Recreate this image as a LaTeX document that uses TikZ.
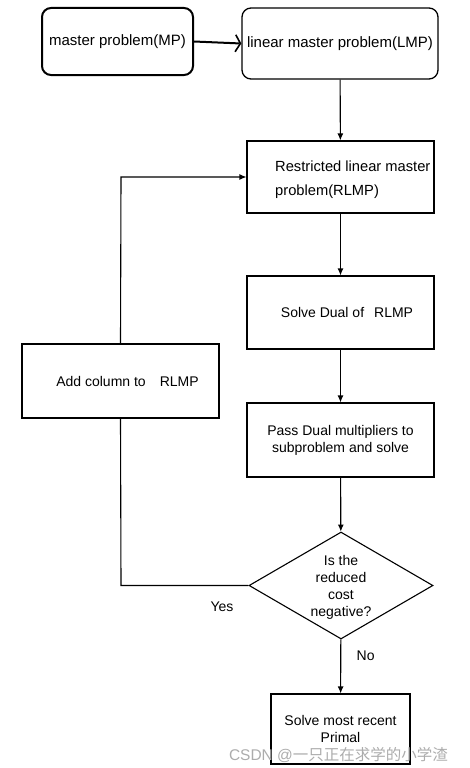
\documentclass[tikz,border=0pt]{standalone}
\usepackage{fontspec}
\setmainfont{Liberation Sans}
\newfontfamily\cjkfont{Noto Sans CJK SC}
\usetikzlibrary{arrows.meta,shapes.geometric}

\begin{document}
\begin{tikzpicture}[x=1pt,y=-1pt,
	font=\fontsize{14}{17}\selectfont,
	box/.style={draw,line width=1.1pt,rectangle,inner sep=0pt,align=center},
	flow/.style={draw,line width=1.1pt,-{Latex[length=7pt,width=6pt]}}]
	\useasboundingbox (0,0) rectangle (469,768);
	
	\node[box,rounded corners=9pt,line width=2pt,minimum width=151,minimum height=67,font=\fontsize{15}{17}\selectfont] (mp) at (117.5,41.5) {master problem(MP)};
	\node[box,rounded corners=9pt,line width=1.3pt,minimum width=196,minimum height=71,font=\fontsize{15}{17}\selectfont] (lmp) at (340,43.5) {linear master problem(LMP)};
	\node[box,minimum width=187,minimum height=72] (rlmp) at (340.5,177) {};
	\node[anchor=west,align=left,inner sep=0pt,font=\fontsize{14.7}{24}\selectfont] (rlmptext) at (275,180) {Restricted linear master\\problem(RLMP)};
	\node[box,minimum width=187,minimum height=73] (dual) at (340.5,312.5) {\hspace*{13pt}Solve Dual of\hspace{10pt}RLMP};
	\node[box,minimum width=187,minimum height=74] (pass) at (340.5,440) {Pass Dual multipliers to\\subproblem and solve};
	\node[box,shape=diamond,aspect=1.72,minimum width=184,minimum height=107] (neg) at (341,585.5) {};
	\node[align=center,inner sep=0pt] (negtext) at (341,587) {Is the\\reduced\\cost\\negative?};
	\node[box,minimum width=139,minimum height=70] (primal) at (340.5,729) {Solve most recent\\Primal};
	\node[box,minimum width=197,minimum height=74] (addcol) at (120.5,381) {\hspace*{14pt}Add column to\quad RLMP};
	
	\coordinate (corner1) at (121,585.5);
	\coordinate (corner2) at (121,177);
	
	% main flow
	\draw[line width=2pt,-{Straight Barb[length=5pt,width=17pt,line width=1.6pt]}] (mp.east) -- (lmp.west);
	\draw[flow] (lmp) -- (rlmp);
	\draw[flow] (rlmp) -- (dual);
	\draw[flow] (dual) -- (pass);
	\draw[flow] (pass) -- (neg);
	\draw[flow] (neg) -- (primal) node[pos=0.3,right=12pt] (no) {No};
	
	% loop back
	\draw[line width=1.1pt] (neg.west) -- (corner1) -- (addcol.south);
	\draw[flow] (addcol.north) -- (corner2) -- (rlmp.west);
	\node (yes) at (222,607) {Yes};
	
	\node[text=gray!65,font=\fontsize{15.5}{17}\selectfont] (mark) at (338.5,755) {CSDN @\cjkfont 一只正在求学的小学渣};
\end{tikzpicture}
\end{document}
